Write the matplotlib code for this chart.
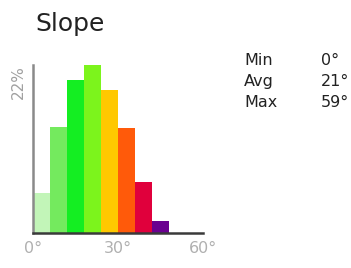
import matplotlib
matplotlib.use("Agg")
import matplotlib.pyplot as plt

# slope histogram, 6 degree bins, share of area in %
bin_edges = [0, 6, 12, 18, 24, 30, 36, 42, 48, 54, 60]
shares = [5.2, 13.9, 20.1, 22.0, 18.7, 13.7, 6.7, 1.6, 0.0, 0.0]
bar_colors = ['#c2f5b8', '#74ea5e', '#14ee22', '#7cf41c', '#ffc800',
              '#ff5a0a', '#e0003c', '#6a0090', '#333333', '#333333']
tick_vals = [0, 30, 60]
tick_labels = ['0°', '30°', '60°']
stat_names = ['Min', 'Avg', 'Max']
stat_vals = ['0°', '21°', '59°']
y_max = 22

fig = plt.figure(figsize=(3.51, 2.68), dpi=100)
ax = fig.add_axes([33 / 351, 35 / 268, 170 / 351, 168 / 268])

widths = [bin_edges[i + 1] - bin_edges[i] for i in range(len(shares))]
ax.bar(bin_edges[:-1], shares, width=widths, align='edge',
       color=bar_colors, edgecolor='none')

ax.set_xlim(0, 60)
ax.set_ylim(0, y_max)
for s in ['top', 'right']:
    ax.spines[s].set_visible(False)
ax.spines['left'].set_color('#8a8a8a')
ax.spines['left'].set_linewidth(1.8)
ax.spines['bottom'].set_color('#3a3a3a')
ax.spines['bottom'].set_linewidth(1.8)

ax.set_xticks(tick_vals)
ax.set_xticklabels(tick_labels, fontsize=11.5, color='#b0b0b0')
ax.tick_params(axis='x', length=0, pad=6)
ax.set_yticks([])
ax.text(-0.085, 1.0, '%d%%' % y_max, transform=ax.transAxes, rotation=90,
        ha='center', va='top', fontsize=11, color='#a0a0a0')

fig.text(35 / 351, 1 - 31 / 268, 'Slope', fontsize=18, color='#222222',
         ha='left', va='baseline')

for i, (n, v) in enumerate(zip(stat_names, stat_vals)):
    y = 1 - (65 + 21 * i) / 268
    fig.text(244 / 351, y, n, fontsize=11.5, color='#222222', va='baseline')
    fig.text(321 / 351, y, v, fontsize=11.5, color='#222222', va='baseline')

fig.savefig('out.png', dpi=100)
